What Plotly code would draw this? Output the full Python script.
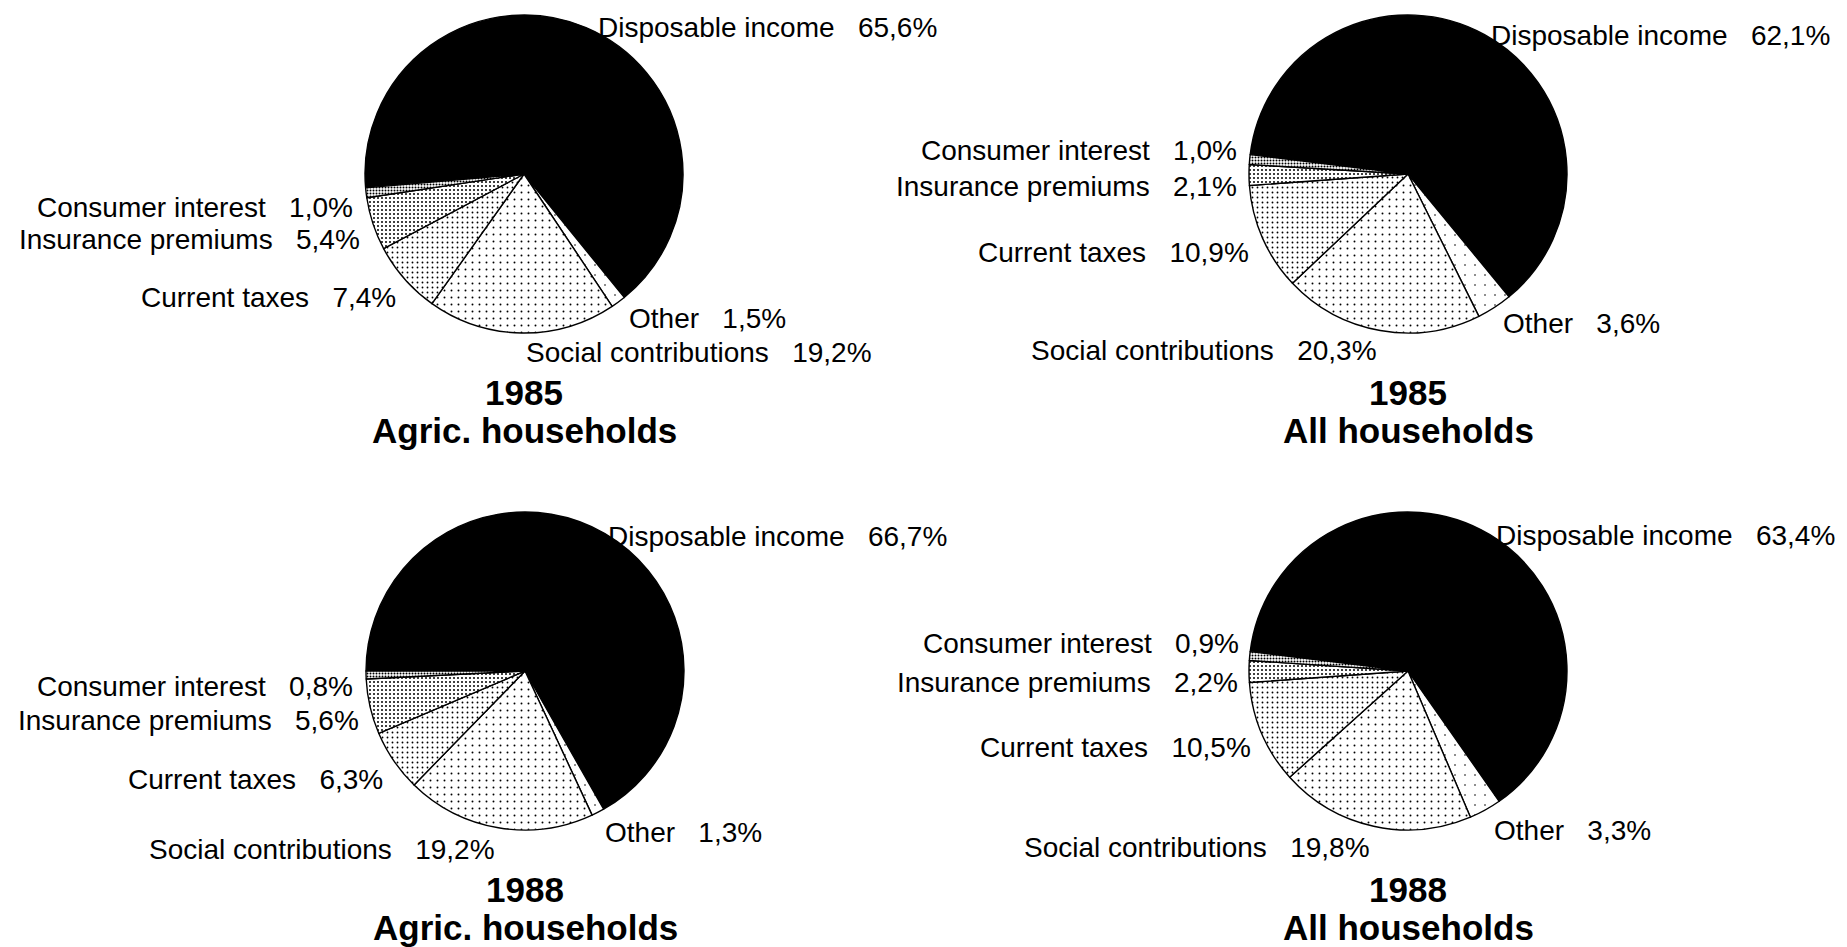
import plotly.graph_objects as go

# Household income distribution, shares in percent
categories = [
    "Disposable income",
    "Other",
    "Social contributions",
    "Current taxes",
    "Insurance premiums",
    "Consumer interest",
]
agric_1985 = [65.6, 1.5, 19.2, 7.4, 5.4, 1.0]
all_1985 = [62.1, 3.6, 20.3, 10.9, 2.1, 1.0]
agric_1988 = [66.7, 1.3, 19.2, 6.3, 5.6, 0.8]
all_1988 = [63.4, 3.3, 19.8, 10.5, 2.2, 0.9]

years = ["1985", "1985", "1988", "1988"]
groups = ["Agric. households", "All households", "Agric. households", "All households"]
series = [agric_1985, all_1985, agric_1988, all_1988]

W, H = 1847, 947
FONT = "Liberation Sans, Arial, Helvetica, sans-serif"

# Layout of each panel: pie centre (px), radius (px), start angle of first slice
panels = [
    dict(cx=524, cy=174, r=159, rot=265),
    dict(cx=1408, cy=174, r=159, rot=277),
    dict(cx=525, cy=671, r=159, rot=270),
    dict(cx=1408, cy=671, r=159, rot=277),
]

# Label anchor points per panel (px): (x, y, xanchor) in category order
label_pos = [
    [(596, 27, "left"), (627, 318, "left"), (524, 352, "left"),
     (398, 298, "right"), (362, 239, "right"), (355, 207, "right")],
    [(1489, 36, "left"), (1501, 324, "left"), (1379, 350, "right"),
     (1251, 253, "right"), (1239, 187, "right"), (1239, 150, "right")],
    [(606, 536, "left"), (603, 832, "left"), (497, 849, "right"),
     (385, 779, "right"), (361, 720, "right"), (355, 686, "right")],
    [(1494, 535, "left"), (1492, 830, "left"), (1372, 847, "right"),
     (1253, 747, "right"), (1240, 682, "right"), (1241, 643, "right")],
]
title_y = [(392, 430), (392, 430), (889, 927), (889, 927)]

# Slice fills: solid black, then dot screens of rising density
fill_colors = ["black", "white", "white", "white", "white", "white"]
pattern_shapes = ["", ".", ".", ".", ".", "."]
pattern_sizes = [8, 10, 7, 5, 4, 3]
pattern_solidity = [0.2, 0.02, 0.06, 0.11, 0.2, 0.35]

GAP = "\u00a0\u00a0\u00a0"


def fmt(v):
    return f"{v:.1f}".replace(".", ",") + "%"


fig = go.Figure()
annotations = []

for i, (vals, p) in enumerate(zip(series, panels)):
    x0 = (p["cx"] - p["r"]) / W
    x1 = (p["cx"] + p["r"]) / W
    y0 = 1 - (p["cy"] + p["r"]) / H
    y1 = 1 - (p["cy"] - p["r"]) / H
    fig.add_trace(go.Pie(
        labels=categories,
        values=vals,
        sort=False,
        direction="clockwise",
        rotation=p["rot"],
        textinfo="none",
        hoverinfo="label+value",
        showlegend=False,
        domain=dict(x=[x0, x1], y=[y0, y1]),
        marker=dict(
            colors=fill_colors,
            line=dict(color="black", width=1.4),
            pattern=dict(
                shape=pattern_shapes,
                fgcolor="black",
                bgcolor="white",
                size=pattern_sizes,
                solidity=pattern_solidity,
                fillmode="replace",
            ),
        ),
    ))

    for cat, v, (lx, ly, anchor) in zip(categories, vals, label_pos[i]):
        annotations.append(dict(
            x=lx / W, y=1 - ly / H, xref="paper", yref="paper",
            text=f"{cat}{GAP}{fmt(v)}",
            showarrow=False, xanchor=anchor, yanchor="middle",
            font=dict(family=FONT, size=28, color="black"),
        ))

    for txt, ty in zip((years[i], groups[i]), title_y[i]):
        annotations.append(dict(
            x=p["cx"] / W, y=1 - ty / H, xref="paper", yref="paper",
            text=f"<b>{txt}</b>",
            showarrow=False, xanchor="center", yanchor="middle",
            font=dict(family=FONT, size=35, color="black"),
        ))

fig.update_layout(
    width=W,
    height=H,
    margin=dict(l=0, r=0, t=0, b=0),
    paper_bgcolor="white",
    plot_bgcolor="white",
    annotations=annotations,
)

fig.write_html("out.html")
